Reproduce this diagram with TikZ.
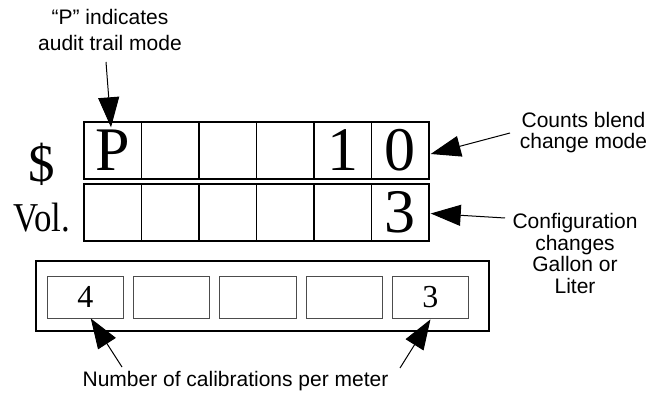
\documentclass[tikz,border=0pt]{standalone}
\usepackage{fontspec}
\setmainfont{Liberation Serif}
\newfontfamily\labelfont{Liberation Sans}
\usetikzlibrary{arrows.meta,calc}
\begin{document}
\begin{tikzpicture}[x=1pt,y=-1pt,
  cell/.style={draw, line width=1.4pt, minimum width=57.5pt, minimum height=57pt, inner sep=0pt, font=\fontsize{62}{62}\selectfont},
  smallbox/.style={draw=black!70, line width=0.8pt, minimum width=76.5pt, minimum height=42pt, inner sep=0pt, font=\fontsize{32}{32}\selectfont},
  framebox/.style={draw, line width=2.5pt, minimum width=453pt, minimum height=70pt, inner sep=0pt},
  lbl/.style={font=\labelfont\fontsize{21}{21.5}\selectfont, align=center, inner sep=0pt},
  arr/.style={line width=1pt, -{Triangle[length=30pt,width=21pt]}}
]
\useasboundingbox (0,0) rectangle (649,393);

% top row
\node[cell] (t1) at (112.75,150.5) {P};
\node[cell] (t2) at (170.25,150.5) {};
\node[cell] (t3) at (227.75,150.5) {};
\node[cell] (t4) at (285.25,150.5) {};
\node[cell] (t5) at (342.75,150.5) {1};
\node[cell] (t6) at (400.25,150.5) {0};
% second row
\node[cell] (v1) at (112.75,212.5) {};
\node[cell] (v2) at (170.25,212.5) {};
\node[cell] (v3) at (227.75,212.5) {};
\node[cell] (v4) at (285.25,212.5) {};
\node[cell] (v5) at (342.75,212.5) {};
\node[cell] (v6) at (400.25,212.5) {3};

% row labels
\node[font=\fontsize{53}{53}\selectfont, anchor=base, inner sep=0pt] (dollar) at (42,182) {\$};
\node[font=\fontsize{41}{41}\selectfont, anchor=base, inner sep=0pt] (vol) at (42,232) {\scalebox{0.85}[1]{Vol.}};

% bottom display
\node[framebox] (frame) at (262.5,296) {};
\node[smallbox] (b1) at (85.25,297) {4};
\node[smallbox] (b2) at (171.55,297) {};
\node[smallbox] (b3) at (257.85,297) {};
\node[smallbox] (b4) at (344.15,297) {};
\node[smallbox] (b5) at (430.45,297) {3};

% labels
\node[lbl, anchor=north] (lblP) at (110,9.5) {“P” indicates\\[4.5pt]audit trail mode};
\node[lbl, anchor=north] (lblC) at (583.5,112) {Counts blend\\change mode};
\node[lbl, anchor=north] (lblG) at (575,213.5) {Configuration\\changes\\Gallon or\\Liter};
\node[lbl, anchor=base] (lblN) at (235.5,386) {Number of calibrations per meter};

% arrow tails
\coordinate (aP) at (106,62);
\coordinate (aC) at (510,133);
\coordinate (aG) at (505,218);
\coordinate (aN1) at (122,367);
\coordinate (aN2) at (400,368);

% arrows
\draw[arr] (aP) -- ($(t1.north)+(-1.75,6)$);
\draw[arr] (aC) -- ($(t6.east)+(1,3.5)$);
\draw[arr] (aG) -- ($(v6.east)+(1,1)$);
\draw[arr] (aN1) -- ($(b1.south)+(5.5,0)$);
\draw[arr] (aN2) -- ($(b5.south)+(0,1)$);
\end{tikzpicture}
\end{document}
